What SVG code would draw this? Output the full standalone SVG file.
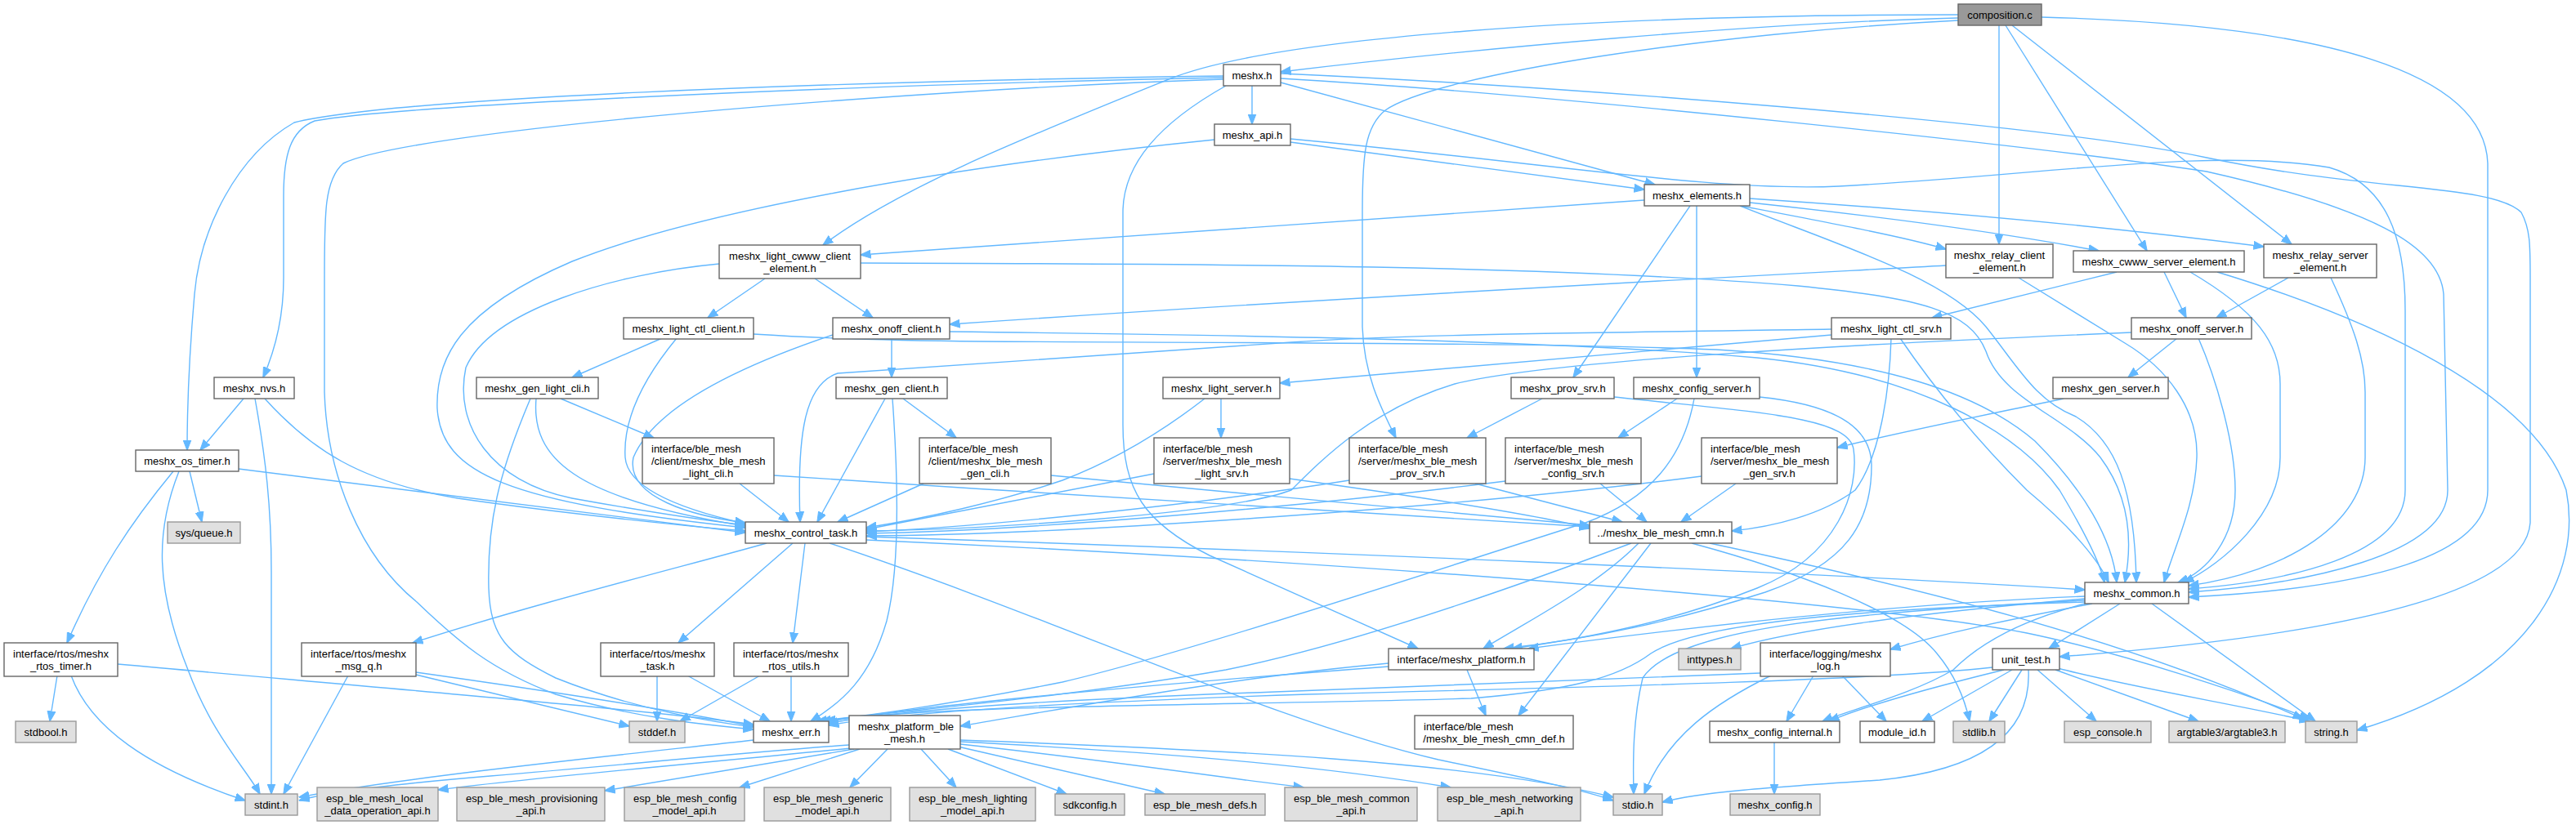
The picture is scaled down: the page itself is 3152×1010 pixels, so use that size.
<svg xmlns="http://www.w3.org/2000/svg" width="3152" height="1010" viewBox="0 0 3152 1010">
<defs>
<marker id="arr" markerWidth="13" markerHeight="11" refX="12.5" refY="5.5" orient="auto" markerUnits="userSpaceOnUse">
<path d="M0,0.5 L13,5.5 L0,10.5 z" fill="#63b8ff" stroke="#63b8ff" stroke-width="1"/>
</marker>
</defs>
<style>
.n rect{fill:#ffffff;stroke:#666666;stroke-width:1.4}
.g rect{fill:#e0e0e0;stroke:#999999;stroke-width:1.4}
.r rect{fill:#999999;stroke:#666666;stroke-width:1.4}
text{font-family:"Liberation Sans",Arial,Helvetica,sans-serif;font-size:13px;fill:#000000;text-anchor:middle}
text.l{text-anchor:start}
#edges path{fill:none;stroke:#63b8ff;stroke-width:1.4;marker-end:url(#arr)}
</style>
<rect width="3152" height="1010" fill="#ffffff"/>
<g id="edges">
<path d="M2396,22 C2150,28 1800,60 1567,88"/>
<path d="M2396,18 C1950,18 1560,45 1430,97 C1250,170 1100,230 1007,300"/>
<path d="M2396,25 C2100,40 1760,90 1695,135 C1670,155 1667,190 1667,260 L1667,400 C1669,460 1690,500 1708,536"/>
<path d="M2446,31 L2446,299"/>
<path d="M2454,31 L2627,307"/>
<path d="M2462,31 L2804,299"/>
<path d="M2498,21 C2850,30 3040,90 3044,200 L3044,600 C3044,680 2900,720 2678,731"/>
<path d="M1532,105 L1532,152"/>
<path d="M1567,101 L2025,226"/>
<path d="M1497,93 C1000,100 480,120 360,150 C290,190 245,280 238,360 C231,440 229,500 229,551"/>
<path d="M1497,95 C1000,105 480,130 385,148 C355,160 347,190 347,240 L347,340 C347,390 336,430 322,462"/>
<path d="M1497,97 C1100,110 500,160 420,200 C397,220 397,260 397,340 L397,480 C400,580 440,680 510,737 C560,785 600,820 680,850 C780,880 870,888 922,893"/>
<path d="M1500,105 C1420,150 1374,200 1374,260 L1374,520 C1374,600 1400,640 1480,680 L1735,794"/>
<path d="M1567,90 C1900,105 2500,150 2700,193 C2900,235 3050,225 3085,260 C3096,280 3096,300 3096,340 L3096,640 C3090,720 2900,775 2520,804"/>
<path d="M1567,96 C1900,115 2500,180 2700,210 C2900,255 2985,300 2990,360 L2995,600 C2995,680 2820,715 2678,725"/>
<path d="M1579,174 L2012,232"/>
<path d="M1486,171 C1150,205 850,260 700,320 C560,380 533,440 535,500 C540,580 620,615 912,646"/>
<path d="M1579,170 C1900,200 2100,235 2250,228 C2500,215 2700,180 2850,205 C2920,225 2943,290 2943,380 L2943,600 C2943,680 2800,712 2678,721"/>
<path d="M2012,245 L1053,312"/>
<path d="M2068,252 L1925,462"/>
<path d="M2076,252 L2076,462"/>
<path d="M2130,252 C2250,275 2330,290 2381,305"/>
<path d="M2141,248 C2300,265 2450,285 2568,307"/>
<path d="M2141,243 C2400,260 2600,280 2770,302"/>
<path d="M2129,252 C2250,300 2380,340 2430,400 C2470,450 2490,490 2540,510 C2590,540 2612,600 2614,713"/>
<path d="M936,341 L866,389"/>
<path d="M997,341 L1068,389"/>
<path d="M880,323 C750,335 600,380 570,450 C555,520 600,590 700,610 C800,628 870,638 912,643"/>
<path d="M1053,322 C1500,323 1900,325 2200,350 C2350,365 2410,380 2430,430 C2450,490 2530,510 2570,560 C2600,600 2612,650 2600,713"/>
<path d="M2381,325 C2200,335 1700,360 1162,397"/>
<path d="M2470,340 L2600,420 C2650,450 2690,500 2688,560 C2686,620 2660,670 2648,713"/>
<path d="M2590,333 L2364,389"/>
<path d="M2648,333 L2675,389"/>
<path d="M2680,333 C2760,380 2790,420 2790,470 L2790,560 C2790,630 2720,690 2672,713"/>
<path d="M2713,333 C2900,390 3100,480 3140,600 C3160,700 3100,830 2884,894"/>
<path d="M2800,340 L2712,389"/>
<path d="M2852,340 C2880,400 2894,440 2894,480 L2894,560 C2894,640 2800,700 2678,717"/>
<path d="M810,414 L700,462"/>
<path d="M828,414 C790,460 762,510 765,560 C768,600 840,625 912,641"/>
<path d="M922,409 C1000,414 1100,417 1200,418 C1600,420 1900,420 2100,428 C2300,440 2420,480 2490,540 C2550,600 2585,660 2590,713"/>
<path d="M1091,414 L1091,462"/>
<path d="M1019,410 C900,450 800,500 775,560 C765,610 850,632 912,640"/>
<path d="M1162,406 C1500,410 1900,416 2150,438 C2350,458 2470,530 2520,600 C2550,650 2570,690 2575,713"/>
<path d="M2241,410 L1566,469"/>
<path d="M2241,403 C1900,408 1700,410 1580,419 L1025,457 C985,470 975,530 979,639"/>
<path d="M2314,414 C2312,480 2300,560 2270,600 C2230,630 2170,645 2119,650"/>
<path d="M2325,414 C2370,480 2420,540 2480,600 C2540,650 2570,690 2580,713"/>
<path d="M2664,414 L2604,462"/>
<path d="M2608,407 C2300,420 1900,440 1780,470 C1680,500 1620,560 1580,600 C1500,630 1200,648 1060,650"/>
<path d="M2690,414 C2710,460 2735,540 2735,600 C2735,660 2700,700 2665,713"/>
<path d="M686,488 L800,536"/>
<path d="M656,488 C650,560 700,610 912,644"/>
<path d="M649,488 C610,580 596,640 598,720 C600,780 620,800 680,830 C780,870 880,885 922,890"/>
<path d="M1105,488 L1170,536"/>
<path d="M1083,488 L1000,639"/>
<path d="M1092,488 C1100,600 1100,700 1085,760 C1065,830 1030,860 992,883"/>
<path d="M1494,488 L1494,536"/>
<path d="M1474,488 C1420,530 1360,565 1300,588 C1220,615 1130,635 1060,646"/>
<path d="M1887,488 L1795,536"/>
<path d="M1975,486 C2150,505 2262,510 2268,550 C2275,600 2250,680 2150,720 C2050,760 1950,780 1850,794"/>
<path d="M2052,488 L1980,536"/>
<path d="M2073,488 C2060,560 2020,610 1940,640 C1750,700 1450,800 1300,835 C1150,865 1060,876 999,883"/>
<path d="M2153,486 C2240,495 2290,520 2290,570 C2290,640 2260,690 2160,725 C2050,760 1950,782 1840,794"/>
<path d="M2005,665 C1950,720 1870,760 1815,794"/>
<path d="M1996,665 C1850,720 1650,790 1500,820 C1300,855 1100,870 1004,883"/>
<path d="M2020,665 L1858,876"/>
<path d="M2070,665 C2200,700 2330,750 2370,800 C2395,830 2405,860 2410,883"/>
<path d="M2092,665 C2350,720 2600,782 2818,880"/>
<path d="M2525,488 C2420,510 2320,530 2248,548"/>
<path d="M905,592 L965,639"/>
<path d="M947,582 C1300,605 1700,632 1945,645"/>
<path d="M1130,592 L1025,639"/>
<path d="M1286,582 C1500,602 1750,626 1945,643"/>
<path d="M1412,580 L1060,648"/>
<path d="M1578,586 C1750,610 1880,630 1945,647"/>
<path d="M1651,588 C1450,620 1200,645 1060,651"/>
<path d="M1805,592 L1985,639"/>
<path d="M1842,589 C1600,620 1250,650 1060,653"/>
<path d="M1958,592 L2015,639"/>
<path d="M2082,583 C1800,620 1300,655 1060,656"/>
<path d="M2124,592 L2057,639"/>
<path d="M298,488 L245,551"/>
<path d="M312,488 C325,560 332,620 332,700 L332,972"/>
<path d="M324,488 C380,550 440,590 560,610 C700,630 850,645 912,650"/>
<path d="M232,577 L247,639"/>
<path d="M212,577 C160,640 120,700 82,787"/>
<path d="M219,577 C190,650 190,720 230,820 C260,900 300,940 318,972"/>
<path d="M292,574 L912,652"/>
<path d="M938,665 C850,690 650,740 505,787"/>
<path d="M970,665 L830,787"/>
<path d="M985,665 L970,787"/>
<path d="M1015,665 C1300,760 1550,880 1760,930 C1880,955 1940,968 1974,980"/>
<path d="M1060,657 C1600,675 2200,700 2551,722"/>
<path d="M1060,661 C1700,690 2300,740 2480,775 C2600,800 2750,850 2826,880"/>
<path d="M2551,730 C2300,740 2050,770 1870,794"/>
<path d="M2551,733 C2350,750 2200,770 2118,794"/>
<path d="M2560,739 C2450,760 2380,775 2313,795"/>
<path d="M2594,739 L2507,794"/>
<path d="M2633,739 L2833,883"/>
<path d="M2551,735 C2250,750 2050,770 2010,830 C1998,880 1998,930 1999,972"/>
<path d="M2551,737 C2300,745 2080,760 2020,800 C1980,830 1920,845 1800,855 C1500,864 1150,862 1010,883"/>
<path d="M2551,739 C2470,760 2420,790 2390,820 C2340,850 2260,870 2230,883"/>
<path d="M70,827 L61,883"/>
<path d="M87,827 C110,890 180,940 300,980"/>
<path d="M144,813 C500,845 800,870 922,887"/>
<path d="M426,827 L347,972"/>
<path d="M509,826 L770,889"/>
<path d="M509,823 C700,850 850,875 922,889"/>
<path d="M804,827 L804,883"/>
<path d="M841,827 L942,883"/>
<path d="M930,827 L832,883"/>
<path d="M968,827 L968,883"/>
<path d="M1699,812 C1500,830 1300,868 1175,889"/>
<path d="M1795,820 L1818,876"/>
<path d="M1699,816 C1450,835 1150,860 1008,884"/>
<path d="M2219,827 L2186,883"/>
<path d="M2254,827 L2308,883"/>
<path d="M2167,827 C2100,860 2040,900 2012,972"/>
<path d="M2154,824 C1900,835 1700,842 1560,847 C1300,856 1100,868 1013,886"/>
<path d="M2438,817 C2300,832 2000,840 1600,850 C1300,860 1100,872 1014,888"/>
<path d="M2452,820 C2350,845 2280,865 2238,883"/>
<path d="M2462,820 L2352,883"/>
<path d="M2474,820 L2434,883"/>
<path d="M2493,820 L2565,883"/>
<path d="M2515,820 L2690,883"/>
<path d="M2518,818 C2600,840 2750,865 2826,883"/>
<path d="M2482,820 C2485,880 2450,940 2300,955 C2150,965 2080,970 2034,982"/>
<path d="M2171,909 L2171,972"/>
<path d="M1039,912 C900,922 780,935 600,950 C480,960 400,970 366,980"/>
<path d="M922,906 C800,920 500,950 366,976"/>
<path d="M1041,916 C850,935 650,952 536,967"/>
<path d="M1045,917 C920,938 820,955 740,968"/>
<path d="M1052,917 L905,964"/>
<path d="M1086,917 L1040,964"/>
<path d="M1127,917 L1170,964"/>
<path d="M1160,917 L1305,972"/>
<path d="M1172,914 L1425,972"/>
<path d="M1175,911 C1350,930 1480,950 1595,964"/>
<path d="M1175,908 C1400,920 1600,935 1775,964"/>
<path d="M1175,906 C1500,918 1800,932 1974,976"/>
</g>
<g id="composition_c" class="r"><rect x="2396" y="5" width="102" height="26"/><text x="2447" y="22.5">composition.c</text></g>
<g id="meshx_h" class="n"><rect x="1497" y="79" width="70" height="26"/><text x="1532" y="96.5">meshx.h</text></g>
<g id="meshx_api_h" class="n"><rect x="1486" y="152" width="93" height="26"/><text x="1532.5" y="169.5">meshx_api.h</text></g>
<g id="meshx_elements_h" class="n"><rect x="2012" y="226" width="129" height="26"/><text x="2076.5" y="243.5">meshx_elements.h</text></g>
<g id="meshx_light_cwww_client_element_h" class="n"><rect x="880" y="300" width="173" height="41"/><text x="966.5" y="317.5">meshx_light_cwww_client</text><text x="966.5" y="332.5">_element.h</text></g>
<g id="meshx_relay_client_element_h" class="n"><rect x="2381" y="299" width="131" height="41"/><text x="2446.5" y="316.5">meshx_relay_client</text><text x="2446.5" y="331.5">_element.h</text></g>
<g id="meshx_cwww_server_element_h" class="n"><rect x="2537" y="307" width="209" height="26"/><text x="2641.5" y="324.5">meshx_cwww_server_element.h</text></g>
<g id="meshx_relay_server_element_h" class="n"><rect x="2770" y="299" width="138" height="41"/><text x="2839" y="316.5">meshx_relay_server</text><text x="2839" y="331.5">_element.h</text></g>
<g id="meshx_light_ctl_client_h" class="n"><rect x="763" y="389" width="159" height="26"/><text x="842.5" y="406.5">meshx_light_ctl_client.h</text></g>
<g id="meshx_onoff_client_h" class="n"><rect x="1019" y="389" width="143" height="26"/><text x="1090.5" y="406.5">meshx_onoff_client.h</text></g>
<g id="meshx_light_ctl_srv_h" class="n"><rect x="2241" y="389" width="146" height="26"/><text x="2314" y="406.5">meshx_light_ctl_srv.h</text></g>
<g id="meshx_onoff_server_h" class="n"><rect x="2608" y="389" width="147" height="26"/><text x="2681.5" y="406.5">meshx_onoff_server.h</text></g>
<g id="meshx_nvs_h" class="n"><rect x="262" y="462" width="98" height="26"/><text x="311" y="479.5">meshx_nvs.h</text></g>
<g id="meshx_gen_light_cli_h" class="n"><rect x="583" y="462" width="149" height="26"/><text x="657.5" y="479.5">meshx_gen_light_cli.h</text></g>
<g id="meshx_gen_client_h" class="n"><rect x="1023" y="462" width="136" height="26"/><text x="1091" y="479.5">meshx_gen_client.h</text></g>
<g id="meshx_light_server_h" class="n"><rect x="1423" y="462" width="143" height="26"/><text x="1494.5" y="479.5">meshx_light_server.h</text></g>
<g id="meshx_prov_srv_h" class="n"><rect x="1849" y="462" width="126" height="26"/><text x="1912" y="479.5">meshx_prov_srv.h</text></g>
<g id="meshx_config_server_h" class="n"><rect x="1999" y="462" width="154" height="26"/><text x="2076" y="479.5">meshx_config_server.h</text></g>
<g id="meshx_gen_server_h" class="n"><rect x="2512" y="462" width="141" height="26"/><text x="2582.5" y="479.5">meshx_gen_server.h</text></g>
<g id="meshx_os_timer_h" class="n"><rect x="166" y="551" width="126" height="26"/><text x="229" y="568.5">meshx_os_timer.h</text></g>
<g id="ble_light_cli_h" class="n"><rect x="786" y="536" width="161" height="56"/><text class="l" x="797" y="553.5">interface/ble_mesh</text><text class="l" x="797" y="568.5">/client/meshx_ble_mesh</text><text x="866.5" y="583.5">_light_cli.h</text></g>
<g id="ble_gen_cli_h" class="n"><rect x="1125" y="536" width="161" height="56"/><text class="l" x="1136" y="553.5">interface/ble_mesh</text><text class="l" x="1136" y="568.5">/client/meshx_ble_mesh</text><text x="1205.5" y="583.5">_gen_cli.h</text></g>
<g id="ble_light_srv_h" class="n"><rect x="1412" y="536" width="166" height="56"/><text class="l" x="1423" y="553.5">interface/ble_mesh</text><text class="l" x="1423" y="568.5">/server/meshx_ble_mesh</text><text x="1495" y="583.5">_light_srv.h</text></g>
<g id="ble_prov_srv_h" class="n"><rect x="1651" y="536" width="167" height="56"/><text class="l" x="1662" y="553.5">interface/ble_mesh</text><text class="l" x="1662" y="568.5">/server/meshx_ble_mesh</text><text x="1734.5" y="583.5">_prov_srv.h</text></g>
<g id="ble_config_srv_h" class="n"><rect x="1842" y="536" width="166" height="56"/><text class="l" x="1853" y="553.5">interface/ble_mesh</text><text class="l" x="1853" y="568.5">/server/meshx_ble_mesh</text><text x="1925" y="583.5">_config_srv.h</text></g>
<g id="ble_gen_srv_h" class="n"><rect x="2082" y="536" width="166" height="56"/><text class="l" x="2093" y="553.5">interface/ble_mesh</text><text class="l" x="2093" y="568.5">/server/meshx_ble_mesh</text><text x="2165" y="583.5">_gen_srv.h</text></g>
<g id="sys_queue_h" class="g"><rect x="205" y="639" width="89" height="26"/><text x="249.5" y="656.5">sys/queue.h</text></g>
<g id="meshx_control_task_h" class="n"><rect x="912" y="639" width="148" height="26"/><text x="986" y="656.5">meshx_control_task.h</text></g>
<g id="meshx_ble_mesh_cmn_h" class="n"><rect x="1945" y="639" width="174" height="26"/><text x="2032" y="656.5">../meshx_ble_mesh_cmn.h</text></g>
<g id="meshx_common_h" class="n"><rect x="2551" y="713" width="127" height="26"/><text x="2614.5" y="730.5">meshx_common.h</text></g>
<g id="rtos_timer_h" class="n"><rect x="5" y="787" width="139" height="41"/><text class="l" x="16" y="804.5">interface/rtos/meshx</text><text x="74.5" y="819.5">_rtos_timer.h</text></g>
<g id="msg_q_h" class="n"><rect x="369" y="787" width="140" height="41"/><text class="l" x="380" y="804.5">interface/rtos/meshx</text><text x="439" y="819.5">_msg_q.h</text></g>
<g id="task_h" class="n"><rect x="735" y="787" width="139" height="41"/><text class="l" x="746" y="804.5">interface/rtos/meshx</text><text x="804.5" y="819.5">_task.h</text></g>
<g id="rtos_utils_h" class="n"><rect x="898" y="787" width="140" height="41"/><text class="l" x="909" y="804.5">interface/rtos/meshx</text><text x="968" y="819.5">_rtos_utils.h</text></g>
<g id="meshx_platform_h" class="n"><rect x="1699" y="794" width="178" height="26"/><text x="1788" y="811.5">interface/meshx_platform.h</text></g>
<g id="inttypes_h" class="g"><rect x="2054" y="794" width="76" height="26"/><text x="2092" y="811.5">inttypes.h</text></g>
<g id="meshx_log_h" class="n"><rect x="2154" y="787" width="159" height="41"/><text class="l" x="2165" y="804.5">interface/logging/meshx</text><text x="2233.5" y="819.5">_log.h</text></g>
<g id="unit_test_h" class="n"><rect x="2438" y="794" width="82" height="26"/><text x="2479" y="811.5">unit_test.h</text></g>
<g id="stdbool_h" class="g"><rect x="19" y="883" width="74" height="26"/><text x="56" y="900.5">stdbool.h</text></g>
<g id="stddef_h" class="g"><rect x="770" y="883" width="68" height="26"/><text x="804" y="900.5">stddef.h</text></g>
<g id="meshx_err_h" class="n"><rect x="922" y="883" width="92" height="26"/><text x="968" y="900.5">meshx_err.h</text></g>
<g id="meshx_platform_ble_mesh_h" class="n"><rect x="1039" y="876" width="136" height="41"/><text class="l" x="1050" y="893.5">meshx_platform_ble</text><text x="1107" y="908.5">_mesh.h</text></g>
<g id="meshx_ble_mesh_cmn_def_h" class="n"><rect x="1731" y="876" width="194" height="41"/><text class="l" x="1742" y="893.5">interface/ble_mesh</text><text x="1828" y="908.5">/meshx_ble_mesh_cmn_def.h</text></g>
<g id="meshx_config_internal_h" class="n"><rect x="2092" y="883" width="159" height="26"/><text x="2171.5" y="900.5">meshx_config_internal.h</text></g>
<g id="module_id_h" class="n"><rect x="2276" y="883" width="91" height="26"/><text x="2321.5" y="900.5">module_id.h</text></g>
<g id="stdlib_h" class="g"><rect x="2390" y="883" width="63" height="26"/><text x="2421.5" y="900.5">stdlib.h</text></g>
<g id="esp_console_h" class="g"><rect x="2526" y="883" width="106" height="26"/><text x="2579" y="900.5">esp_console.h</text></g>
<g id="argtable3_h" class="g"><rect x="2654" y="883" width="142" height="26"/><text x="2725" y="900.5">argtable3/argtable3.h</text></g>
<g id="string_h" class="g"><rect x="2821" y="883" width="63" height="26"/><text x="2852.5" y="900.5">string.h</text></g>
<g id="stdint_h" class="g"><rect x="300" y="972" width="64" height="26"/><text x="332" y="989.5">stdint.h</text></g>
<g id="esp_local_h" class="g"><rect x="388" y="964" width="148" height="41"/><text class="l" x="399" y="981.5">esp_ble_mesh_local</text><text x="462" y="996.5">_data_operation_api.h</text></g>
<g id="esp_prov_h" class="g"><rect x="559" y="964" width="181" height="41"/><text class="l" x="570" y="981.5">esp_ble_mesh_provisioning</text><text x="649.5" y="996.5">_api.h</text></g>
<g id="esp_config_h" class="g"><rect x="764" y="964" width="147" height="41"/><text class="l" x="775" y="981.5">esp_ble_mesh_config</text><text x="837.5" y="996.5">_model_api.h</text></g>
<g id="esp_generic_h" class="g"><rect x="935" y="964" width="155" height="41"/><text class="l" x="946" y="981.5">esp_ble_mesh_generic</text><text x="1012.5" y="996.5">_model_api.h</text></g>
<g id="esp_lighting_h" class="g"><rect x="1113" y="964" width="154" height="41"/><text class="l" x="1124" y="981.5">esp_ble_mesh_lighting</text><text x="1190" y="996.5">_model_api.h</text></g>
<g id="sdkconfig_h" class="g"><rect x="1291" y="972" width="85" height="26"/><text x="1333.5" y="989.5">sdkconfig.h</text></g>
<g id="esp_defs_h" class="g"><rect x="1401" y="972" width="147" height="26"/><text x="1474.5" y="989.5">esp_ble_mesh_defs.h</text></g>
<g id="esp_common_h" class="g"><rect x="1572" y="964" width="162" height="41"/><text class="l" x="1583" y="981.5">esp_ble_mesh_common</text><text x="1653" y="996.5">_api.h</text></g>
<g id="esp_networking_h" class="g"><rect x="1759" y="964" width="175" height="41"/><text class="l" x="1770" y="981.5">esp_ble_mesh_networking</text><text x="1846.5" y="996.5">_api.h</text></g>
<g id="stdio_h" class="g"><rect x="1974" y="972" width="60" height="26"/><text x="2004" y="989.5">stdio.h</text></g>
<g id="meshx_config_h" class="g"><rect x="2117" y="972" width="110" height="26"/><text x="2172" y="989.5">meshx_config.h</text></g>
</svg>
